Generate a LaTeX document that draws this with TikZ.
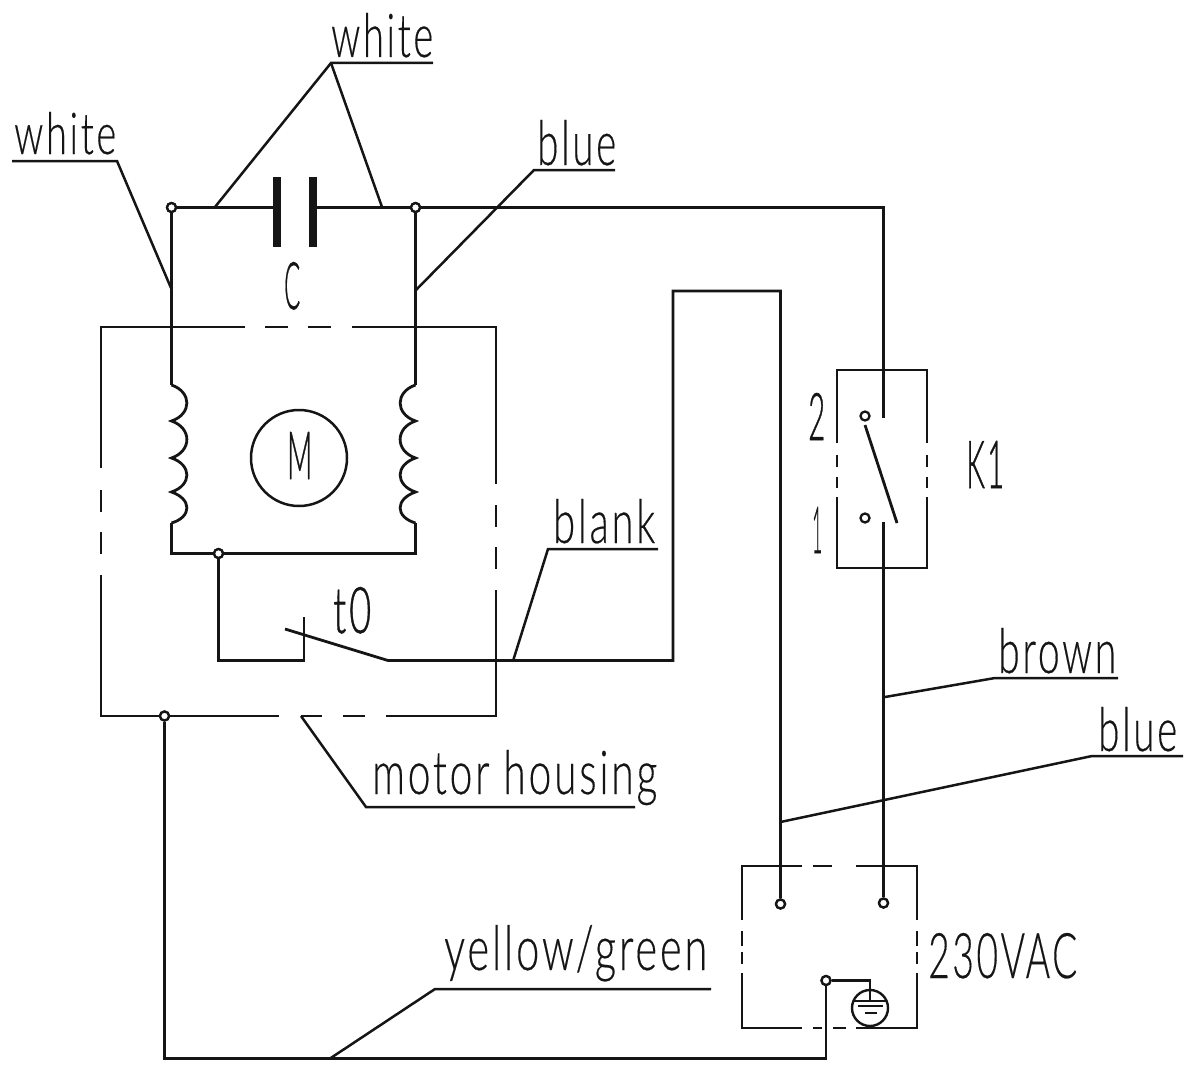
\documentclass[tikz,border=0pt]{standalone}
\usepackage{fontspec}
\usepackage{graphicx}
\setmainfont{Lato Light}[LetterSpace=7,FakeBold=0.35]
\newfontfamily\shortf{Lato Light}[LetterSpace=8,FakeBold=0.9]
\newcommand\lbl[5]{\node[lab] (#1) at (#2) {\resizebox{#3pt}{#4pt}{#5}};}
\tikzset{
  wire/.style={line width=2.8pt,draw=ink,line join=miter},
  leader/.style={line width=2.5pt,draw=ink},
  frame/.style={line width=2.6pt,draw=ink},
  plate/.style={line width=8pt,draw=ink},
  term/.style={circle,draw=ink,line width=2.3pt,fill=white,minimum size=9pt,inner sep=0pt},
  lab/.style={anchor=base west,inner sep=0pt,text=ink}
}
\definecolor{ink}{HTML}{151515}
\begin{document}
\begin{tikzpicture}[x=1pt,y=-1pt]
\useasboundingbox (0,0) rectangle (1190,1070);
% housing
\draw[frame] (245,327) -- (101,327) -- (101,468);
\draw[frame] (265,327) -- (288,327);
\draw[frame] (308,327) -- (331,327);
\draw[frame] (352,327) -- (496,327) -- (496,484);
\draw[frame] (101,490) -- (101,512);
\draw[frame] (101,532) -- (101,554);
\draw[frame] (101,575) -- (101,716) -- (279,716);
\draw[frame] (301,716) -- (322,716);
\draw[frame] (343,716) -- (365,716);
\draw[frame] (386,716) -- (496,716) -- (496,590);
\draw[frame] (496,505) -- (496,527);
\draw[frame] (496,547) -- (496,569);
% K1 box
\draw[frame] (837,443) -- (837,370) -- (927,370) -- (927,443);
\draw[frame] (837,455) -- (837,467);
\draw[frame] (837,477) -- (837,488);
\draw[frame] (927,455) -- (927,467);
\draw[frame] (927,477) -- (927,488);
\draw[frame] (837,497) -- (837,568) -- (927,568) -- (927,497);
% mains box
\draw[frame] (802,866) -- (742,866) -- (742,920);
\draw[frame] (813,866) -- (832,866);
\draw[frame] (856,866) -- (917,866) -- (917,920);
\draw[frame] (742,931) -- (742,946);
\draw[frame] (742,952) -- (742,964);
\draw[frame] (917,931) -- (917,946);
\draw[frame] (917,952) -- (917,964);
\draw[frame] (742,973) -- (742,1028) -- (802,1028);
\draw[frame] (813,1028) -- (822,1028);
\draw[frame] (833,1028) -- (846,1028);
\draw[frame] (856,1028) -- (917,1028) -- (917,973);
% named points
\coordinate (capL) at (273,207);
\coordinate (capR) at (316,207);
\coordinate (coilLt) at (171.5,385);
\coordinate (coilLb) at (171.5,523);
\coordinate (coilRt) at (415.5,385);
\coordinate (coilRb) at (415.5,523);
\coordinate (botL) at (171.5,553.5);
\coordinate (botR) at (415.5,553.5);
\coordinate (tbl) at (218.5,660.5);
\coordinate (tbr) at (304,660.5);
\coordinate (tbt) at (304,617);
\coordinate (arm) at (285,629);
\coordinate (hinge) at (388,660.5);
\coordinate (up1) at (673,660.5);
\coordinate (up2) at (673,291);
\coordinate (up3) at (780.5,291);
\coordinate (tr) at (883.5,207.5);
\coordinate (kt) at (883.5,418);
\coordinate (kb) at (883.5,522);
\coordinate (kswa) at (865,425);
\coordinate (kswb) at (897,523);
\coordinate (gb1) at (164.5,1058.5);
\coordinate (gb2) at (826,1058.5);
\coordinate (ge1) at (870,980.5);
\coordinate (ge2) at (870,1001);
% nodes
\node[term] (nL) at (171.5,207.5) {};
\node[term] (nR) at (415.5,207.5) {};
\node[term] (nB) at (218.5,553.5) {};
\node[term] (nH) at (164.5,716) {};
\node[term] (k2) at (865,416) {};
\node[term] (k1) at (865,518) {};
\node[term] (tN) at (780.5,904) {};
\node[term] (tL) at (883.5,903) {};
\node[term] (tE) at (826,980.5) {};
\node[circle,draw=ink,line width=2.5pt,minimum size=96pt,inner sep=0pt] (mot) at (299,458) {};
\node[circle,draw=ink,line width=2.4pt,minimum size=36pt,inner sep=0pt] (earth) at (870,1008) {};
% wires
\draw[wire] (nL) -- (capL |- nL);
\draw[wire] (capR |- nR) -- (nR);
\draw[wire] (nR) -- (tr) -- (kt);
\draw[plate] (277,177) -- (277,247);
\draw[plate] (313,177) -- (313,247);
\draw[wire] (nL) -- (coilLt);
\draw[wire] (nR) -- (coilRt);
\draw[wire] (coilLt) .. controls (192,392) and (192,414) .. (171.5,421)
  .. controls (192,428) and (192,451) .. (171.5,458)
  .. controls (192,465) and (192,485) .. (171.5,492)
  .. controls (192,499) and (192,517) .. (coilLb);
\draw[wire] (coilRt) .. controls (395,392) and (395,414) .. (415.5,421)
  .. controls (395,428) and (395,451) .. (415.5,458)
  .. controls (395,465) and (395,485) .. (415.5,492)
  .. controls (395,499) and (395,517) .. (coilRb);
\draw[wire] (coilLb) -- (botL) -- (nB);
\draw[wire] (coilRb) -- (botR) -- (nB);
\draw[wire] (nB) -- (tbl) -- (tbr) -- (tbt);
\draw[wire] (arm) -- (hinge) -- (up1) -- (up2) -- (up3) -- (tN);
\draw[wire] (kswa) -- (kswb);
\draw[wire] (kb) -- (tL);
\draw[wire] (nH) -- (gb1) -- (gb2) -- (tE);
\draw[wire] (tE) -- (ge1) -- (ge2);
\draw[wire] (853,1001) -- (887,1001);
\draw[wire] (858,1006) -- (883,1006);
\draw[wire] (865,1013) -- (877,1013);
% re-cap terminals over wires
\node[term] at (nL) {};
\node[term] at (nR) {};
\node[term] at (nB) {};
\node[term] at (nH) {};
\node[term] at (tN) {};
\node[term] at (tL) {};
\node[term] at (tE) {};
% labels
\lbl{lw1}{331,57}{102}{44}{white}
\lbl{lw2}{14,154}{102}{42}{white}
\lbl{lb1}{537,165}{79}{45}{blue}
\lbl{lc}{284,309}{16}{47}{\shortf C}
\lbl{lm}{287,479}{25}{47}{\shortf M}
\lbl{lt}{333,633}{38}{46}{\shortf t0}
\lbl{lbl}{553,543}{102}{44}{blank}
\lbl{lmh}{372,794}{285}{44}{motor housing}
\lbl{lk}{966,488}{38}{47}{\shortf K1}
\lbl{l2}{808,440}{17}{47}{\shortf 2}
\lbl{l1}{812,553}{10}{46}{\shortf 1}
\lbl{lbr}{998,673}{118}{45}{brown}
\lbl{lb2}{1098,751}{79}{44}{blue}
\lbl{lyg}{444,970}{263}{45}{yellow/green}
\lbl{lv}{928,978}{149}{45}{230VAC}
% leaders
\coordinate (a1) at (331,63);
\coordinate (a2) at (433,63);
\coordinate (b1) at (117,161);
\coordinate (b2) at (12,161);
\coordinate (c1) at (534,170);
\coordinate (c2) at (615,170);
\coordinate (d1) at (548,549);
\coordinate (d2) at (658,549);
\coordinate (e1) at (366,807);
\coordinate (e2) at (635,807);
\coordinate (f1) at (995,678);
\coordinate (f2) at (1118,678);
\coordinate (g1) at (1092,756);
\coordinate (g2) at (1183,756);
\coordinate (h1) at (435,989);
\coordinate (h2) at (711,989);
\draw[leader] (215,207) -- (a1) -- (a2);
\draw[leader] (a1) -- (382,207);
\draw[leader] (171,288) -- (b1) -- (b2);
\draw[leader] (416,290) -- (c1) -- (c2);
\draw[leader] (513,661) -- (d1) -- (d2);
\draw[leader] (301,716) -- (e1) -- (e2);
\draw[leader] (885,697) -- (f1) -- (f2);
\draw[leader] (780.5,822) -- (g1) -- (g2);
\draw[leader] (330,1058.5) -- (h1) -- (h2);
\end{tikzpicture}
\end{document}
